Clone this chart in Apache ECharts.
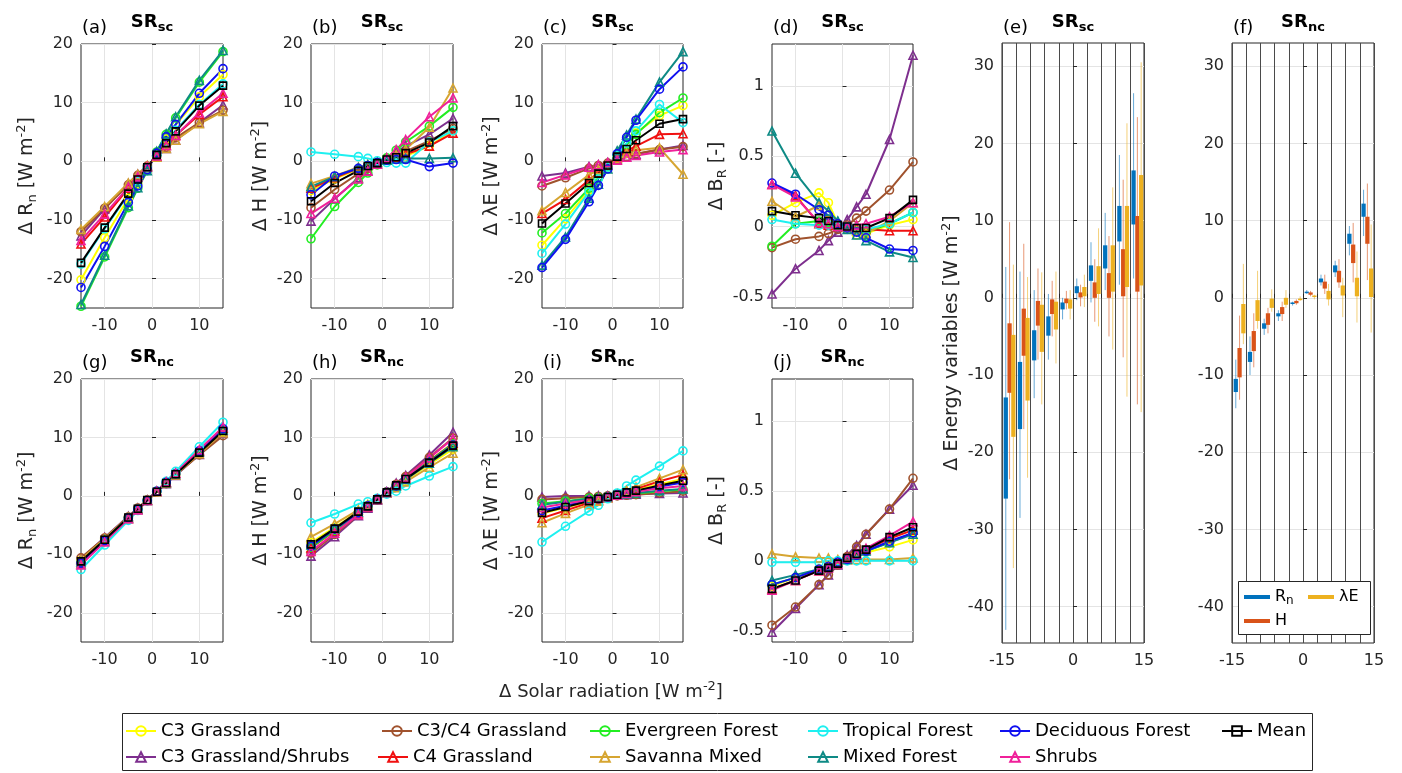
<!DOCTYPE html>
<html>
<head>
<meta charset="utf-8">
<script src="https://cdn.jsdelivr.net/npm/echarts@6/dist/echarts.min.js"></script>
<style>
html,body{margin:0;padding:0;background:#ffffff;}
#chart{width:1402px;height:773px;}
</style>
</head>
<body>
<div id="chart"></div>
<script>
// ---------------- DATA ----------------
const SR = [-15, -10, -5, -3, -1, 1, 3, 5, 10, 15];
const TYPES = ['C3 Grassland', 'C3 Grassland/Shrubs', 'C3/C4 Grassland', 'C4 Grassland',
  'Evergreen Forest', 'Savanna Mixed', 'Tropical Forest', 'Mixed Forest',
  'Deciduous Forest', 'Shrubs', 'Mean'];

// rows follow TYPES order
const RN_SC = [
  [-20.2,-13.0,-6.3,-3.8,-1.3,1.3,3.8,6.2,11.0,14.8],
  [-12.7,-8.1,-3.8,-2.2,-0.8,0.8,2.2,3.6,6.6,9.6],
  [-12.0,-8.0,-4.0,-2.4,-0.8,0.8,2.4,4.0,6.6,8.7],
  [-14.1,-9.5,-4.6,-2.7,-0.9,0.9,2.7,4.4,8.0,11.0],
  [-24.7,-16.3,-7.9,-4.6,-1.6,1.6,4.6,7.4,13.5,18.7],
  [-11.6,-7.7,-3.7,-2.2,-0.7,0.7,2.2,3.6,6.4,8.5],
  [-17.5,-11.5,-5.7,-3.4,-1.1,1.1,3.3,5.3,9.7,13.2],
  [-24.4,-16.0,-7.6,-4.5,-1.6,1.7,4.7,7.6,13.8,18.9],
  [-21.5,-14.5,-7.0,-4.2,-1.4,1.4,4.2,6.3,11.6,15.8],
  [-13.5,-9.0,-4.4,-2.6,-0.9,0.9,2.7,4.4,8.3,11.6],
  [-17.3,-11.3,-5.5,-3.1,-1.0,1.1,3.1,5.1,9.5,12.9]
];
const H_SC = [
  [-5.0,-3.0,-1.3,-0.7,-0.2,0.2,0.6,0.9,2.6,5.2],
  [-10.2,-6.4,-2.8,-1.6,-0.5,0.6,1.6,2.6,4.6,7.3],
  [-7.9,-4.8,-2.1,-1.2,-0.4,0.4,1.0,1.7,3.5,5.6],
  [-4.6,-2.8,-1.2,-0.7,-0.2,0.2,0.7,1.2,2.6,4.8],
  [-13.2,-7.7,-3.6,-2.0,-0.6,0.6,1.9,3.3,6.0,9.2],
  [-3.8,-2.5,-1.0,-0.6,-0.2,0.3,1.1,2.0,5.8,12.5],
  [1.6,1.2,0.8,0.5,0.1,-0.2,-0.3,-0.3,3.3,5.2],
  [-4.3,-2.6,-1.1,-0.6,-0.2,0.2,0.4,0.5,0.5,0.6],
  [-5.7,-2.5,-1.2,-0.7,-0.2,0.2,0.3,0.3,-0.9,-0.3],
  [-8.9,-6.3,-3.0,-1.7,-0.5,0.6,2.0,3.7,7.6,10.8],
  [-6.8,-3.7,-1.6,-0.8,-0.3,0.3,0.7,1.4,3.2,6.0]
];
const LE_SC = [
  [-14.3,-9.8,-4.9,-2.9,-1.0,1.0,2.9,4.8,7.8,9.5],
  [-2.5,-2.0,-0.9,-0.6,-0.2,0.3,0.8,1.2,2.0,2.7],
  [-4.2,-2.8,-1.2,-0.7,-0.3,0.3,0.8,1.3,2.0,2.5],
  [-8.9,-6.5,-3.2,-1.9,-0.6,0.6,1.8,2.6,4.6,4.7],
  [-12.2,-8.9,-4.6,-2.8,-0.9,0.9,2.8,4.6,8.3,10.8],
  [-8.4,-5.3,-2.3,-1.4,-0.5,0.5,1.4,1.9,2.3,-2.2],
  [-15.7,-10.7,-5.2,-3.0,-1.0,1.0,3.1,5.2,9.7,6.6],
  [-17.7,-12.9,-6.3,-3.9,-1.3,1.8,4.5,7.2,13.5,18.7],
  [-18.1,-13.3,-6.9,-4.1,-1.3,1.3,4.1,7.0,12.3,16.1],
  [-3.6,-2.3,-1.0,-0.6,-0.2,0.2,0.7,1.0,1.6,2.0],
  [-10.6,-7.2,-3.7,-2.1,-0.7,0.8,2.1,3.6,6.4,7.2]
];
const BR_SC = [
  [0.08,0.17,0.24,0.17,0.02,-0.02,-0.06,-0.05,0.01,0.05],
  [-0.48,-0.30,-0.17,-0.10,-0.04,0.05,0.14,0.23,0.62,1.22],
  [-0.15,-0.09,-0.07,-0.05,-0.02,0.01,0.06,0.11,0.26,0.46],
  [0.30,0.22,0.02,0.01,0.00,0.00,-0.01,-0.02,-0.03,-0.03],
  [-0.14,0.02,0.04,0.03,0.01,-0.01,-0.03,-0.04,0.02,0.10],
  [0.18,0.07,0.15,0.05,0.01,0.00,-0.03,-0.05,0.04,0.17],
  [0.05,0.02,0.01,0.01,0.00,0.00,-0.01,-0.02,0.02,0.10],
  [0.68,0.38,0.17,0.11,0.04,-0.02,-0.06,-0.10,-0.18,-0.22],
  [0.31,0.23,0.12,0.08,0.02,-0.01,-0.04,-0.08,-0.16,-0.17],
  [0.30,0.21,0.03,0.02,0.00,0.00,0.01,0.02,0.07,0.17],
  [0.11,0.08,0.06,0.04,0.01,0.00,-0.01,-0.01,0.06,0.19]
];
const RN_NC = [
  [-11.0,-7.4,-3.7,-2.2,-0.7,0.7,2.2,3.7,7.4,11.0],
  [-10.7,-7.1,-3.5,-2.1,-0.7,0.7,2.1,3.5,7.1,10.7],
  [-10.6,-7.2,-3.6,-2.1,-0.7,0.7,2.1,3.6,7.0,10.3],
  [-11.6,-7.7,-3.9,-2.3,-0.8,0.8,2.3,3.9,7.7,11.6],
  [-11.4,-7.6,-3.8,-2.3,-0.8,0.8,2.3,3.8,7.6,11.3],
  [-10.9,-7.3,-3.6,-2.2,-0.7,0.7,2.2,3.6,7.2,10.8],
  [-12.6,-8.4,-4.2,-2.5,-0.8,0.8,2.5,4.2,8.4,12.6],
  [-11.3,-7.5,-3.8,-2.3,-0.8,0.8,2.3,3.8,7.5,11.3],
  [-11.5,-7.7,-3.8,-2.3,-0.8,0.8,2.3,3.8,7.7,11.5],
  [-11.8,-7.9,-3.9,-2.4,-0.8,0.8,2.4,3.9,7.9,11.8],
  [-11.2,-7.5,-3.7,-2.2,-0.7,0.7,2.2,3.7,7.4,11.1]
];
const H_NC = [
  [-8.0,-5.4,-2.7,-1.6,-0.5,0.5,1.6,2.7,5.4,8.0],
  [-10.3,-7.0,-3.4,-2.1,-0.7,0.7,2.2,3.5,7.0,10.9],
  [-9.8,-6.6,-3.3,-2.0,-0.7,0.7,2.0,3.3,6.6,9.9],
  [-8.9,-6.0,-3.0,-1.8,-0.6,0.6,1.8,3.0,6.0,9.0],
  [-8.8,-5.9,-2.9,-1.8,-0.6,0.6,1.8,2.9,5.9,8.9],
  [-7.0,-4.8,-2.4,-1.5,-0.5,0.5,1.4,2.4,4.9,7.3],
  [-4.6,-3.1,-1.4,-1.0,-0.4,0.3,0.8,1.7,3.4,5.0],
  [-8.4,-5.6,-2.8,-1.7,-0.6,0.6,1.7,2.8,5.6,8.4],
  [-8.6,-5.7,-2.9,-1.7,-0.6,0.6,1.7,2.9,5.8,8.7],
  [-9.5,-6.4,-3.2,-1.9,-0.6,0.6,1.9,3.2,6.5,9.8],
  [-8.3,-5.6,-2.7,-1.8,-0.6,0.6,1.8,2.9,5.7,8.6]
];
const LE_NC = [
  [-3.0,-2.0,-1.0,-0.6,-0.2,0.2,0.6,1.0,2.0,2.9],
  [-0.2,0.0,0.0,0.0,0.0,0.1,0.2,0.3,0.4,0.5],
  [-0.6,-0.4,-0.2,-0.1,0.0,0.0,0.1,0.2,0.5,0.8],
  [-3.8,-2.5,-1.2,-0.7,-0.3,0.3,0.8,1.2,2.5,3.6],
  [-1.3,-0.9,-0.4,-0.3,-0.1,0.1,0.3,0.4,0.8,1.1],
  [-4.6,-3.0,-1.5,-0.9,-0.3,0.3,0.9,1.5,3.0,4.5],
  [-7.9,-5.2,-2.6,-1.6,-0.5,0.5,1.7,2.7,5.1,7.7],
  [-1.5,-1.0,-0.5,-0.3,-0.1,0.1,0.3,0.5,0.9,1.2],
  [-2.5,-1.7,-0.8,-0.5,-0.2,0.2,0.5,0.8,1.6,2.3],
  [-2.0,-1.3,-0.7,-0.4,-0.1,0.1,0.4,0.7,1.3,1.7],
  [-2.9,-1.9,-0.9,-0.5,-0.2,0.2,0.6,0.9,1.8,2.6]
];
const BR_NC = [
  [-0.18,-0.12,-0.06,-0.04,-0.01,0.01,0.04,0.06,0.10,0.15],
  [-0.51,-0.34,-0.17,-0.10,-0.03,0.04,0.11,0.19,0.37,0.54],
  [-0.46,-0.33,-0.17,-0.10,-0.03,0.03,0.10,0.19,0.37,0.59],
  [-0.20,-0.14,-0.07,-0.04,-0.01,0.01,0.05,0.08,0.16,0.22],
  [-0.17,-0.12,-0.06,-0.04,-0.01,0.01,0.04,0.07,0.13,0.20],
  [0.05,0.03,0.02,0.02,0.01,0.01,0.01,0.01,0.01,0.02],
  [-0.01,-0.01,-0.01,0.00,0.00,0.00,0.00,0.00,0.00,0.00],
  [-0.14,-0.10,-0.06,-0.04,-0.01,0.01,0.04,0.07,0.13,0.19],
  [-0.17,-0.12,-0.06,-0.04,-0.01,0.01,0.04,0.07,0.14,0.20],
  [-0.21,-0.14,-0.07,-0.05,-0.02,0.02,0.05,0.09,0.18,0.28],
  [-0.20,-0.14,-0.07,-0.05,-0.02,0.02,0.05,0.08,0.17,0.24]
];

// Box panels: one row per SR step, [whisker low, box low, box high, whisker high]
const BOX_VARS = ['Rn', 'H', 'λE'];
const E_RN = [[-43,-26,-12.9,4],[-28.5,-17,-8.3,3.4],[-13,-8.1,-4.2,1],[-8,-4.9,-2.4,0.5],[-2.8,-1.5,-0.6,0],
  [-0.3,0.6,1.5,2.5],[-0.6,2.2,4.2,7.2],[1,3.8,6.8,11],[1.7,7.3,11.9,18.5],[2.5,9.5,16.5,26.5]];
const E_H = [[-23.5,-12.3,-3.3,9.8],[-17,-7.5,-1.4,7],[-8,-3.6,-0.4,3.8],[-5,-2.1,-0.2,2.2],[-1.5,-0.7,-0.1,0.9],
  [-1.1,0.05,0.7,1.7],[-3.1,0,2,5],[-5,0,3.2,8],[-7.7,0.2,6.3,15.3],[-13.8,0.8,10.6,23.4]];
const E_LE = [[-35,-18,-4.8,4.3],[-23.3,-13.3,-2.6,2.7],[-13.8,-7,-0.9,3.3],[-8.5,-4.1,-0.5,3.4],[-2.8,-1.4,-0.2,1],
  [-1.2,0.2,1.4,3],[-3.7,0.5,4.1,9],[-6.7,0.8,6.8,14.3],[-12.8,1.4,11.9,22.6],[-14.8,1.6,15.9,30.5]];
const F_RN = [[-14.3,-12.2,-10.5,-8],[-10,-8.3,-7,-5],[-4.8,-4,-3.3,-2.7],[-3,-2.4,-2,-1.6],[-1,-0.8,-0.6,-0.5],
  [0.5,0.6,0.8,1],[1.6,2,2.5,3],[2.7,3.3,4.2,4.8],[5.5,7,8.3,9.3],[8,10.5,12.2,14]];
const F_H = [[-13.2,-10.3,-6.5,-2.3],[-9,-6.9,-4.3,-2],[-4.6,-3.5,-2,-1.3],[-3,-2.1,-1.2,-0.5],[-0.9,-0.7,-0.4,-0.2],
  [0.2,0.4,0.7,0.9],[0.5,1.2,2.1,3],[1.3,2,3.5,5],[2,4.5,6.9,9.7],[2.3,7,10.5,14.8]];
const F_LE = [[-6,-4.6,-0.8,4.4],[-4,-3,-0.3,3.5],[-1.8,-1.3,-0.1,1.1],[-1.3,-0.9,0,1],[-0.4,-0.3,-0.1,0.2],
  [-0.2,0.1,0.3,0.4],[-1,-0.2,0.9,1.8],[-2.5,0.3,1.6,2.6],[-3.2,0.2,2.6,6],[-4.5,0.1,3.8,9.5]];

// Tick labels
const SR_TICKS = [-10, 0, 10];
const FLUX_TICKS = [-20, -10, 0, 10, 20];
const BR_TICKS = [-0.5, 0, 0.5, 1];
const BOX_X_TICKS = [-15, 0, 15];
const BOX_DIVIDERS = [-15, -12, -9, -6, -3, 0, 3, 6, 9, 12, 15];
const BOX_Y_TICKS = [-40, -30, -20, -10, 0, 10, 20, 30];

// ---------------- STYLE / LAYOUT ----------------
const FONT = 'DejaVu Sans';
const AX = '#262626';
const GRIDC = '#e4e4e4';
const TYPE_COLORS = ['#FFFF00', '#7E2F8E', '#A0522D', '#F01010', '#22EE22', '#D6A531',
  '#1EF0F0', '#0E8A85', '#1010F0', '#F0209A', '#000000'];
const TYPE_SYMBOLS = ['circle', 'triangle', 'circle', 'triangle', 'circle', 'triangle',
  'circle', 'triangle', 'circle', 'triangle', 'rect'];
const BOX_COLORS = ['#0072BD', '#D95319', '#EDB120'];
const BOX_OFFSET = [-0.7, 0.1, 0.9];
const BOX_W = 0.9;

const ROW_TOP = [44, 379];
const ROW_H = [264, 263];
const COL_LEFT = [81, 311, 542, 772];
const COL_W = [142, 142, 141, 141];

const RICH = {
  sub: {fontSize: 13, fontFamily: FONT, color: AX, verticalAlign: 'bottom', lineHeight: 13},
  sup: {fontSize: 13, fontFamily: FONT, color: AX, verticalAlign: 'top', lineHeight: 13}
};

const LINE_PANELS = [
  {d: RN_SC, L: '(a)', s: 'sc', name: 'Δ R{sub|n} [W m{sup|-2}]', t: FLUX_TICKS, min: -25, max: 20, r: 0, c: 0, gap: 42},
  {d: H_SC,  L: '(b)', s: 'sc', name: 'Δ H [W m{sup|-2}]',        t: FLUX_TICKS, min: -25, max: 20, r: 0, c: 1, gap: 36},
  {d: LE_SC, L: '(c)', s: 'sc', name: 'Δ λE [W m{sup|-2}]',       t: FLUX_TICKS, min: -25, max: 20, r: 0, c: 2, gap: 35},
  {d: BR_SC, L: '(d)', s: 'sc', name: 'Δ B{sub|R} [-]',           t: BR_TICKS,   min: -0.58, max: 1.3, r: 0, c: 3, gap: 29},
  {d: RN_NC, L: '(g)', s: 'nc', name: 'Δ R{sub|n} [W m{sup|-2}]', t: FLUX_TICKS, min: -25, max: 20, r: 1, c: 0, gap: 42},
  {d: H_NC,  L: '(h)', s: 'nc', name: 'Δ H [W m{sup|-2}]',        t: FLUX_TICKS, min: -25, max: 20, r: 1, c: 1, gap: 36},
  {d: LE_NC, L: '(i)', s: 'nc', name: 'Δ λE [W m{sup|-2}]',       t: FLUX_TICKS, min: -25, max: 20, r: 1, c: 2, gap: 35},
  {d: BR_NC, L: '(j)', s: 'nc', name: 'Δ B{sub|R} [-]',           t: BR_TICKS,   min: -0.58, max: 1.3, r: 1, c: 3, gap: 29}
];
const BOX_PANELS = [
  {d: [E_RN, E_H, E_LE], L: '(e)', s: 'sc', left: 1002, name: 'Δ Energy variables [W m{sup|-2}]'},
  {d: [F_RN, F_H, F_LE], L: '(f)', s: 'nc', left: 1232, name: ''}
];
const BOX_TOP = 43, BOX_H = 600, BOX_WIDTH = 142;

// ---------------- BUILD ----------------
const grids = [], xAxes = [], yAxes = [], series = [], graphics = [], legends = [];
const pick = (arr) => (v) => (arr.some(a => Math.abs(a - v) < 1e-9) ? String(v) : '');

function axisLabel(ticks, margin) {
  return {customValues: ticks, formatter: pick(ticks), fontSize: 16, fontFamily: FONT, color: AX, margin: margin};
}
function tick(values) {
  return {show: true, inside: true, length: 4, customValues: values, lineStyle: {color: AX}};
}
function addTitles(L, s, left, width, top) {
  const cx = left + width / 2;
  graphics.push({type: 'text', x: left + 1, y: top - 16, z: 30,
    style: {text: L, fontSize: 18, fontFamily: FONT, fill: '#000', align: 'left', verticalAlign: 'middle'}});
  graphics.push({type: 'text', x: cx, y: top - 22, z: 30,
    style: {text: '{m|SR}{s|' + s + '}', align: 'center', verticalAlign: 'middle',
      rich: {m: {fontSize: 18, fontWeight: 'bold', fontFamily: FONT, fill: '#000', lineHeight: 24},
             s: {fontSize: 13, fontWeight: 'bold', fontFamily: FONT, fill: '#000', verticalAlign: 'bottom', lineHeight: 13}}}});
}

LINE_PANELS.forEach((p, i) => {
  const left = COL_LEFT[p.c], top = ROW_TOP[p.r], width = COL_W[p.c], height = ROW_H[p.r];
  grids.push({left: left, top: top, width: width, height: height, show: true,
    borderColor: AX, borderWidth: 1, backgroundColor: '#fff'});
  xAxes.push({gridIndex: i, type: 'value', min: -15, max: 15,
    axisLine: {show: false},
    splitLine: {show: true, lineStyle: {color: GRIDC, width: 1}},
    axisTick: tick(SR_TICKS),
    axisLabel: axisLabel(SR_TICKS, 10)});
  yAxes.push({gridIndex: i, type: 'value', min: p.min, max: p.max,
    axisLine: {show: false},
    splitLine: {show: true, lineStyle: {color: GRIDC, width: 1}},
    axisTick: tick(p.t),
    axisLabel: axisLabel(p.t, 8),
    name: p.name, nameLocation: 'middle', nameRotate: 90, nameGap: p.gap,
    nameTextStyle: {fontSize: 19, fontFamily: FONT, color: AX, lineHeight: 24, rich: RICH}});
  TYPES.forEach((name, t) => {
    const c = TYPE_COLORS[t];
    series.push({
      type: 'line', name: name, xAxisIndex: i, yAxisIndex: i,
      data: SR.map((x, j) => [x, p.d[t][j]]),
      symbol: TYPE_SYMBOLS[t], symbolSize: t === 10 ? 7 : 8, showAllSymbol: true,
      lineStyle: {color: c, width: 2},
      itemStyle: {color: 'rgba(255,255,255,0)', borderColor: c, borderWidth: 1.6},
      emphasis: {disabled: true}, z: 2, animation: false
    });
  });
  addTitles(p.L, p.s, left, width, top);
});

function boxRenderer(k) {
  return function (params, api) {
    const g = api.value(0);
    const xc = -15 + 3 * (g + 0.5) + BOX_OFFSET[k];
    const lo = api.coord([xc, api.value(1)]);
    const hi = api.coord([xc, api.value(4)]);
    const a = api.coord([xc - BOX_W / 2, api.value(3)]);
    const b = api.coord([xc + BOX_W / 2, api.value(2)]);
    return {type: 'group', children: [
      {type: 'line', shape: {x1: lo[0], y1: lo[1], x2: hi[0], y2: hi[1]},
        style: {stroke: BOX_COLORS[k], lineWidth: 1, opacity: 0.6}},
      {type: 'rect', shape: {x: a[0], y: a[1], width: b[0] - a[0], height: b[1] - a[1]},
        style: {fill: BOX_COLORS[k]}}
    ]};
  };
}

BOX_PANELS.forEach((p, j) => {
  const i = LINE_PANELS.length + j;
  grids.push({left: p.left, top: BOX_TOP, width: BOX_WIDTH, height: BOX_H, show: true,
    borderColor: AX, borderWidth: 1, backgroundColor: '#fff'});
  xAxes.push({gridIndex: i, type: 'value', min: -15, max: 15, interval: 3,
    axisLine: {show: false},
    splitLine: {show: true, lineStyle: {color: '#4a4a4a', width: 1}},
    axisTick: tick(BOX_DIVIDERS),
    axisLabel: axisLabel(BOX_X_TICKS, 10)});
  yAxes.push({gridIndex: i, type: 'value', min: -44.7, max: 33,
    axisLine: {show: false},
    splitLine: {show: true, lineStyle: {color: GRIDC, width: 1}},
    axisTick: tick(BOX_Y_TICKS),
    axisLabel: axisLabel(BOX_Y_TICKS, 8),
    name: p.name, nameLocation: 'middle', nameRotate: 90, nameGap: 35,
    nameTextStyle: {fontSize: 19, fontFamily: FONT, color: AX, lineHeight: 24, rich: RICH}});
  BOX_VARS.forEach((v, k) => {
    series.push({
      type: 'custom', name: v, xAxisIndex: i, yAxisIndex: i, z: 3,
      itemStyle: {color: BOX_COLORS[k]},
      renderItem: boxRenderer(k), clip: false, animation: false, silent: true,
      data: p.d[k].map((r, g) => [g].concat(r))
    });
  });
  addTitles(p.L, p.s, p.left, BOX_WIDTH, BOX_TOP + 1);
});

// Common x label
graphics.push({type: 'text', x: 611, y: 692, z: 30,
  style: {text: 'Δ Solar radiation [W m{sup|-2}]', align: 'center', verticalAlign: 'middle',
    fontSize: 18, fontFamily: FONT, fill: AX, lineHeight: 24,
    rich: {sup: {fontSize: 13, fontFamily: FONT, fill: AX, verticalAlign: 'top', lineHeight: 13}}}});

// Bottom legend box and items
graphics.push({type: 'rect', z: 15, shape: {x: 122.5, y: 713.5, width: 1190, height: 57},
  style: {fill: '#fff', stroke: AX, lineWidth: 1}});
const LEG_COL = [125, 125, 381, 377, 589, 589, 807, 807, 999, 999, 1221];
const LEG_ROW = [731, 757, 731, 757, 731, 757, 731, 757, 731, 757, 731];
TYPES.forEach((name, t) => {
  legends.push({data: [name], left: LEG_COL[t], top: LEG_ROW[t] - 11, z: 20,
    itemWidth: 30, itemHeight: 12, itemGap: 0, padding: 0, selectedMode: false,
    textStyle: {fontSize: 18, fontFamily: FONT, color: '#000', lineHeight: 22}});
});

// Legend of panel (f)
graphics.push({type: 'rect', z: 15, shape: {x: 1238.5, y: 581.5, width: 132, height: 53},
  style: {fill: '#fff', stroke: AX, lineWidth: 1}});
const FLEG_X = [1244, 1244, 1308];
const FLEG_Y = [597, 621, 597];
BOX_VARS.forEach((v, k) => {
  legends.push({data: [v], left: FLEG_X[k], top: FLEG_Y[k] - 10, z: 20,
    icon: 'rect', itemWidth: 26, itemHeight: 4, itemGap: 0, padding: 0, selectedMode: false,
    formatter: (n) => (n === 'Rn' ? 'R{sub|n}' : n),
    textStyle: {fontSize: 16, fontFamily: FONT, color: '#000', lineHeight: 20,
      rich: {sub: {fontSize: 12, fontFamily: FONT, color: '#000', verticalAlign: 'bottom', lineHeight: 12}}}});
});

const chart = echarts.init(document.getElementById('chart'), null, {renderer: 'canvas'});
chart.setOption({
  animation: false,
  backgroundColor: '#ffffff',
  textStyle: {fontFamily: FONT},
  grid: grids,
  xAxis: xAxes,
  yAxis: yAxes,
  legend: legends,
  graphic: {elements: graphics},
  series: series
});
</script>
</body>
</html>
